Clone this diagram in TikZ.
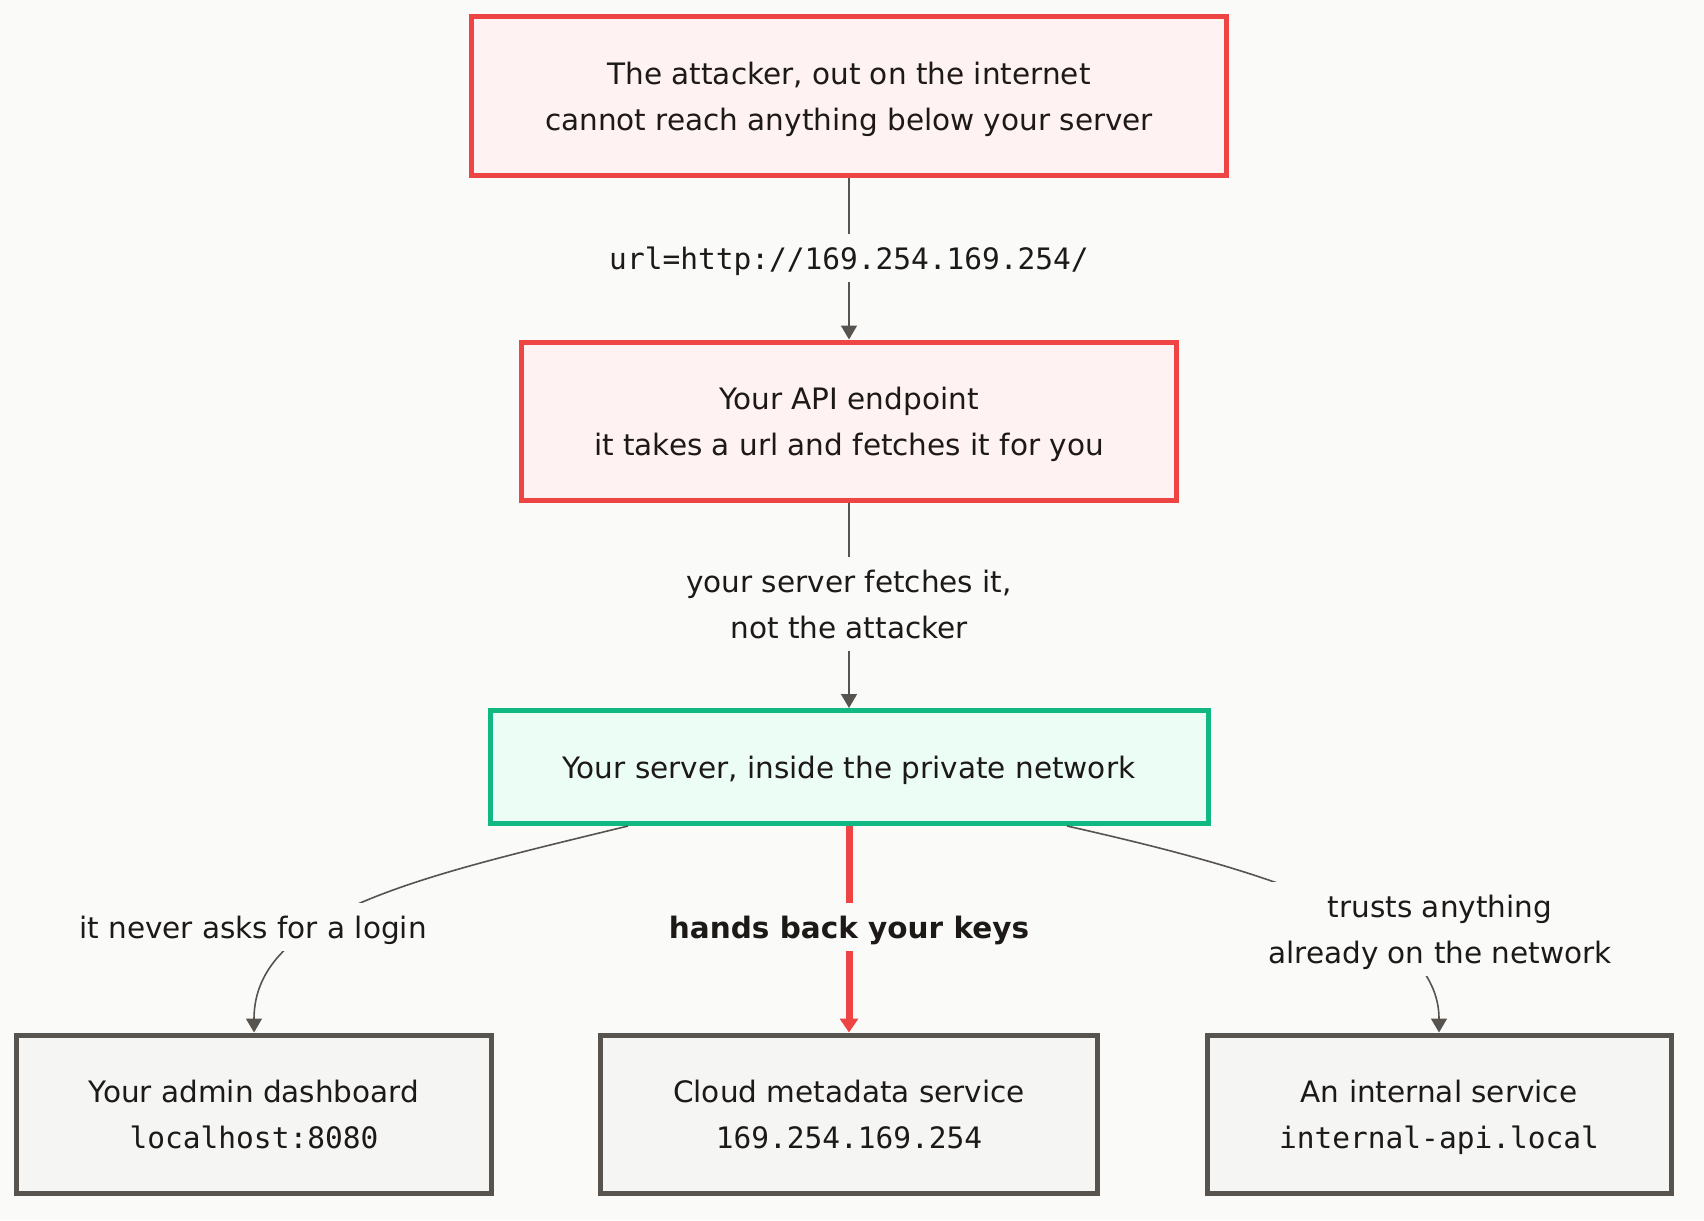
\documentclass[tikz,border=0pt]{standalone}
\usepackage{fontspec}
\setmainfont{DejaVu Sans}
\setmonofont{DejaVu Sans Mono}
\usetikzlibrary{arrows.meta,calc}
\definecolor{page}{HTML}{FAFAF9}
\definecolor{ink}{HTML}{1C1917}
\definecolor{alert}{HTML}{EF4444}
\definecolor{alertfill}{HTML}{FEF2F2}
\definecolor{safe}{HTML}{10B981}
\definecolor{safefill}{HTML}{ECFDF5}
\definecolor{stone}{HTML}{57534E}
\definecolor{stonefill}{HTML}{F5F5F4}
\newcommand{\tstrut}{\rule[-11.5pt]{0pt}{45.6pt}}
\tikzset{>={Triangle[length=14pt,width=16pt]}}

\begin{document}
\begin{tikzpicture}[x=1pt,y=-1pt,
  font=\fontsize{29.5}{45.6}\selectfont,text=ink,
  box/.style={draw,line width=5pt,minimum height=158pt,inner sep=0pt,align=center},
  hostile/.style={box,draw=alert,fill=alertfill},
  inside/.style={box,draw=safe,fill=safefill},
  target/.style={box,draw=stone,fill=stonefill},
  edge/.style={->,stone,line width=1.6pt},
  tag/.style={fill=page,inner xsep=2pt,inner ysep=1pt,align=center}]

  % Page
  \fill[page] (0,0) rectangle (1704,1220);

  % Outside and the endpoint
  \node[hostile,minimum width=755pt,minimum height=159pt] (attacker) at (849,96)
    {\tstrut The attacker, out on the internet\\cannot reach anything below your server\tstrut};
  \node[hostile,minimum width=655pt] (api) at (849,421)
    {\tstrut Your API endpoint\\it takes a url and fetches it for you\tstrut};

  % Inside the private network
  \node[inside,minimum width=718pt,minimum height=113pt] (server) at (849,767)
    {\tstrut Your server, inside the private network\tstrut};

  \node[target,minimum width=475pt] (admin) at (254,1114)
    {\tstrut Your admin dashboard\\\texttt{localhost:8080}\tstrut};
  \node[target,minimum width=497pt] (meta) at (849,1114)
    {\tstrut Cloud metadata service\\\texttt{169.254.169.254}\tstrut};
  \node[target,minimum width=464pt] (internal) at (1439,1114)
    {\tstrut An internal service\\\texttt{internal-api.local}\tstrut};

  % Requests
  \draw[edge] (attacker) -- (api);
  \draw[edge] (api) -- (server);
  \draw[edge] ([xshift=-221pt]server.south)
    .. controls +(-205,50) and +(0,-120) .. (admin.north);
  \draw[edge] ([xshift=218pt]server.south)
    .. controls +(200,45) and +(0,-110) .. (internal.north);
  \draw[->,alert,line width=7pt,>={Triangle[length=14pt,width=18pt]}]
    (server) -- (meta);

  % Edge labels
  \node[tag] (urltag) at (849,258) {\tstrut\ttfamily url=http://169.254.169.254/\tstrut};
  \node[tag] (fetchtag) at (849,604)
    {\tstrut your server fetches it,\\not the attacker\tstrut};
  \node[tag] (logintag) at (253,927) {\tstrut it never asks for a login\tstrut};
  \node[tag] (keystag) at (849,927) {\tstrut\bfseries hands back your keys\tstrut};
  \node[tag] (trusttag) at (1440,929)
    {\tstrut trusts anything\\already on the network\tstrut};

\end{tikzpicture}
\end{document}
